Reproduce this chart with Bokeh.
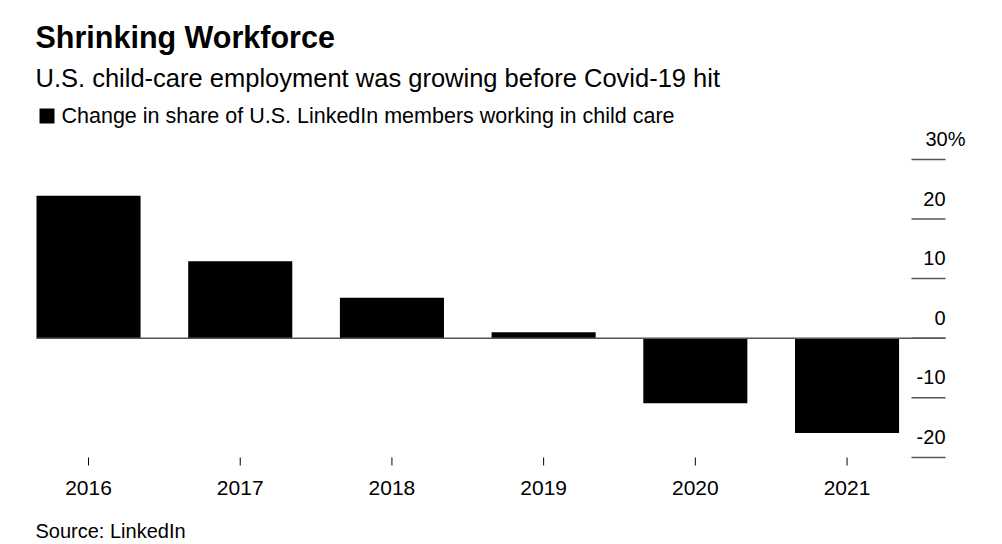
from bokeh.plotting import figure
from bokeh.models import Range1d
from bokeh.core.properties import value
from bokeh.embed import file_html
from bokeh.resources import INLINE

# ---- data ----
years = [2016, 2017, 2018, 2019, 2020, 2021]
changes = [23.9, 12.9, 6.8, 1.0, -10.9, -15.9]
y_ticks = [30, 20, 10, 0, -10, -20]
y_tick_labels = ["30%", "20", "10", "0", "-10", "-20"]
year_labels = [str(y) for y in years]

title = "Shrinking Workforce"
subtitle = "U.S. child-care employment was growing before Covid-19 hit"
legend_text = "Change in share of U.S. LinkedIn members working in child care"
source = "Source: LinkedIn"

# ---- layout (pixels) ----
W, H = 1002, 544
PX_PER_YEAR = 151.7
PX_PER_UNIT = 5.96
BAR_W = 0.686
LEFT_PX = 36
ZERO_PX = 337.7
RIGHT_PX = 945

x_start = (years[0] - BAR_W / 2) - LEFT_PX / PX_PER_YEAR
x_end = x_start + W / PX_PER_YEAR
y_top = ZERO_PX / PX_PER_UNIT
y_bot = y_top - H / PX_PER_UNIT

def xd(px):
    return x_start + px / PX_PER_YEAR

def yd(px):
    return y_top - px / PX_PER_UNIT

FONT = "Liberation Sans"
BASE_FIX = 0.37  # em shift to land the drawn baseline where wanted

def base(px, size):
    return yd(px - BASE_FIX * size)

p = figure(width=W, height=H, output_backend="svg", toolbar_location=None,
           x_range=Range1d(x_start, x_end), y_range=Range1d(y_bot, y_top),
           min_border=0, outline_line_color=None)
p.axis.visible = False
p.grid.visible = False
p.background_fill_color = "white"
p.border_fill_color = "white"

# bars
p.vbar(x=years, top=changes, bottom=0, width=BAR_W, fill_color="black",
       line_color=None)

# right-side tick lines
p.segment(x0=[xd(911)] * len(y_ticks), x1=[xd(RIGHT_PX)] * len(y_ticks),
          y0=y_ticks, y1=y_ticks, line_color="#555555", line_width=1.5)
# zero line
p.segment(x0=[xd(LEFT_PX)], x1=[xd(RIGHT_PX)], y0=[0], y1=[0],
          line_color="#555555", line_width=1.5)

# y tick labels (above their lines)
YS = 20
lab_x = [xd(RIGHT_PX)] * len(y_ticks)
lab_x[0] = xd(965)
p.text(x=lab_x, y=[t + (13 + BASE_FIX * YS) / PX_PER_UNIT for t in y_ticks],
       text=y_tick_labels, text_font=value(FONT), text_font_size=f"{YS}px",
       text_align="right", text_baseline="alphabetic", text_color="black")

# x ticks and labels
p.segment(x0=years, x1=years, y0=[yd(457)] * 6, y1=[yd(465)] * 6,
          line_color="black", line_width=1)
p.text(x=years, y=[base(495, 21)] * 6, text=year_labels, text_font=value(FONT),
       text_font_size="21px", text_align="center", text_baseline="alphabetic",
       text_color="black")

# titles
p.text(x=[xd(35)], y=[base(48, 30.5)], text=[title], text_font=value(FONT),
       text_font_size="30.5px", text_font_style="bold", text_baseline="alphabetic",
       text_color="black")
p.text(x=[xd(35)], y=[base(87, 25.5)], text=[subtitle], text_font=value(FONT),
       text_font_size="25.5px", text_baseline="alphabetic", text_color="black")

# legend
p.quad(left=[xd(39)], right=[xd(54)], top=[yd(108)], bottom=[yd(123)],
       fill_color="black", line_color=None)
p.text(x=[xd(61)], y=[base(123, 21.5)], text=[legend_text], text_font=value(FONT),
       text_font_size="21.5px", text_baseline="alphabetic", text_color="black")

# source
p.text(x=[xd(35)], y=[base(538, 20)], text=[source], text_font=value(FONT),
       text_font_size="20px", text_baseline="alphabetic", text_color="black")

open("out.html", "w").write(file_html(p, INLINE))
